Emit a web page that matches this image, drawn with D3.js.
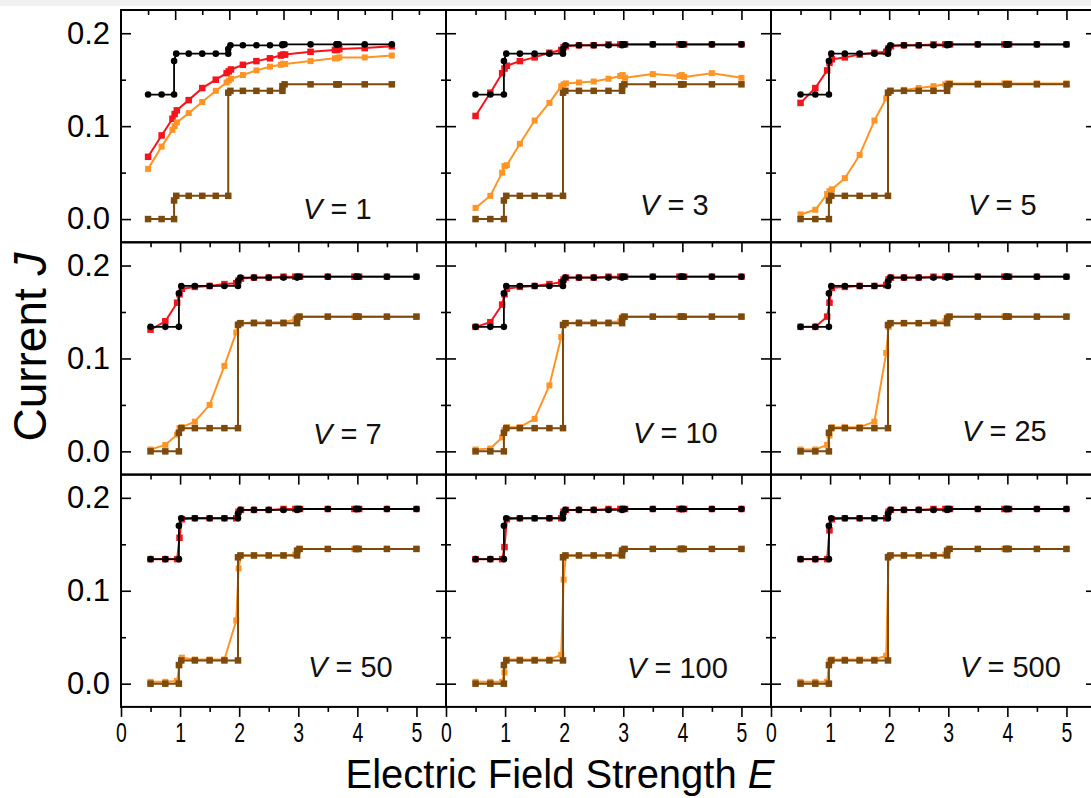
<!DOCTYPE html>
<html>
<head>
<meta charset="utf-8">
<script src="https://cdn.jsdelivr.net/npm/d3@7"></script>
<style>
  body { margin: 0; background: #fff; }
  svg { display: block; font-family: Arial, 'Liberation Sans', sans-serif; }
</style>
</head>
<body>
<svg id="chart"></svg>
<script>
// V value of each panel, read left-to-right, top-to-bottom
const vLabels = ['1', '3', '5', '7', '10', '25', '50', '100', '500'];

// field values E of the smooth curves (red, orange) and of the step curves (black, brown)
const eCurve = [0.5, 0.75, 0.95, 0.99, 1.03, 1.25, 1.5, 1.75, 1.95, 1.99, 2.03, 2.25, 2.5, 2.75, 2.95, 2.99, 3.03, 3.5, 3.95, 3.99, 4.03, 4.5, 5.0];
const eStep = [0.5, 0.75, 0.98, 0.98, 1.02, 1.25, 1.5, 1.75, 1.98, 1.98, 2.02, 2.25, 2.5, 2.75, 2.98, 2.98, 3.02, 3.5, 3.98, 3.98, 4.02, 4.5, 5.0];

// step curves, same in every panel
const jBlack = [0.134, 0.134, 0.134, 0.170, 0.178, 0.178, 0.178, 0.178, 0.178, 0.183, 0.187, 0.187, 0.187, 0.187, 0.187, 0.188, 0.188, 0.188, 0.188, 0.188, 0.188, 0.188, 0.188];
const jBrown = [0.000, 0.000, 0.000, 0.020, 0.025, 0.025, 0.025, 0.025, 0.025, 0.136, 0.138, 0.138, 0.138, 0.138, 0.138, 0.143, 0.145, 0.145, 0.145, 0.145, 0.145, 0.145, 0.145];

// red curves, one row per panel
const jRed = [
  [0.067, 0.090, 0.108, 0.113, 0.117, 0.128, 0.141, 0.150, 0.157, 0.159, 0.161, 0.166, 0.170, 0.173, 0.176, 0.177, 0.177, 0.180, 0.182, 0.182, 0.183, 0.184, 0.186],
  [0.111, 0.136, 0.157, 0.162, 0.165, 0.170, 0.174, 0.179, 0.182, 0.185, 0.186, 0.187, 0.187, 0.188, 0.188, 0.188, 0.188, 0.188, 0.188, 0.188, 0.188, 0.188, 0.188],
  [0.125, 0.141, 0.160, 0.168, 0.172, 0.174, 0.177, 0.179, 0.180, 0.184, 0.186, 0.187, 0.187, 0.188, 0.188, 0.188, 0.188, 0.188, 0.188, 0.188, 0.188, 0.188, 0.188],
  [0.131, 0.140, 0.160, 0.169, 0.175, 0.177, 0.178, 0.180, 0.181, 0.184, 0.186, 0.187, 0.187, 0.188, 0.188, 0.188, 0.188, 0.188, 0.188, 0.188, 0.188, 0.188, 0.188],
  [0.134, 0.139, 0.158, 0.169, 0.175, 0.177, 0.178, 0.180, 0.182, 0.185, 0.187, 0.187, 0.187, 0.188, 0.188, 0.188, 0.188, 0.188, 0.188, 0.188, 0.188, 0.188, 0.188],
  [0.134, 0.134, 0.145, 0.160, 0.176, 0.177, 0.178, 0.178, 0.179, 0.185, 0.187, 0.187, 0.187, 0.188, 0.188, 0.188, 0.188, 0.188, 0.188, 0.188, 0.188, 0.188, 0.188],
  [0.134, 0.134, 0.134, 0.157, 0.177, 0.178, 0.178, 0.178, 0.178, 0.185, 0.187, 0.187, 0.187, 0.188, 0.188, 0.188, 0.188, 0.188, 0.188, 0.188, 0.188, 0.188, 0.188],
  [0.134, 0.134, 0.134, 0.147, 0.177, 0.178, 0.178, 0.178, 0.178, 0.185, 0.187, 0.187, 0.187, 0.188, 0.188, 0.188, 0.188, 0.188, 0.188, 0.188, 0.188, 0.188, 0.188],
  [0.134, 0.134, 0.134, 0.165, 0.177, 0.178, 0.178, 0.178, 0.178, 0.185, 0.187, 0.187, 0.187, 0.188, 0.188, 0.188, 0.188, 0.188, 0.188, 0.188, 0.188, 0.188, 0.188]
];

// orange curves, one row per panel
const jOrange = [
  [0.054, 0.078, 0.096, 0.100, 0.104, 0.114, 0.126, 0.138, 0.147, 0.149, 0.151, 0.155, 0.160, 0.164, 0.166, 0.167, 0.167, 0.170, 0.173, 0.173, 0.174, 0.174, 0.176],
  [0.012, 0.025, 0.050, 0.057, 0.058, 0.081, 0.106, 0.125, 0.143, 0.145, 0.146, 0.147, 0.148, 0.151, 0.154, 0.155, 0.152, 0.156, 0.154, 0.155, 0.153, 0.157, 0.152],
  [0.005, 0.010, 0.027, 0.030, 0.032, 0.044, 0.069, 0.106, 0.130, 0.136, 0.138, 0.139, 0.141, 0.143, 0.145, 0.146, 0.146, 0.146, 0.146, 0.146, 0.146, 0.146, 0.146],
  [0.002, 0.007, 0.018, 0.025, 0.026, 0.032, 0.050, 0.092, 0.128, 0.137, 0.138, 0.139, 0.139, 0.139, 0.142, 0.145, 0.145, 0.145, 0.145, 0.145, 0.145, 0.145, 0.145],
  [0.002, 0.003, 0.015, 0.023, 0.026, 0.026, 0.035, 0.071, 0.123, 0.136, 0.138, 0.139, 0.139, 0.139, 0.140, 0.145, 0.145, 0.145, 0.145, 0.145, 0.145, 0.145, 0.145],
  [0.002, 0.002, 0.007, 0.017, 0.026, 0.026, 0.026, 0.032, 0.106, 0.134, 0.138, 0.138, 0.138, 0.139, 0.140, 0.145, 0.145, 0.145, 0.145, 0.145, 0.145, 0.145, 0.145],
  [0.002, 0.002, 0.003, 0.020, 0.028, 0.026, 0.026, 0.026, 0.068, 0.124, 0.138, 0.138, 0.138, 0.138, 0.139, 0.144, 0.145, 0.145, 0.145, 0.145, 0.145, 0.145, 0.145],
  [0.002, 0.002, 0.002, 0.012, 0.026, 0.026, 0.026, 0.026, 0.031, 0.112, 0.138, 0.138, 0.138, 0.138, 0.139, 0.144, 0.145, 0.145, 0.145, 0.145, 0.145, 0.145, 0.145],
  [0.002, 0.002, 0.002, 0.024, 0.026, 0.026, 0.026, 0.026, 0.030, 0.137, 0.138, 0.138, 0.138, 0.138, 0.139, 0.144, 0.145, 0.145, 0.145, 0.145, 0.145, 0.145, 0.145]
];

const xMajor = [0, 1, 2, 3, 4, 5];
const yMajor = [0, 0.1, 0.2];
const yMinor = [0.05, 0.15];

// ---- layout ----
const width = 1091, height = 798;
const plotLeft = 121, plotTop = 10, colW = 325, rowH = 232.3;
const xMaxOf = [6, 5.5, 5.5, 5.5, 5.5, 5.5, 5.5, 5.5, 5.5];   // first panel is drawn wider in x
const labelPos = [[182, 209], [194, 205], [197, 205], [192, 202], [187, 201], [191, 199], [187, 202], [181, 203], [189, 202]];

const colors = { black: '#000000', red: '#f5141c', orange: '#ff9424', brown: '#7d4a0e' };

const svg = d3.select('#chart').attr('width', width).attr('height', height);

svg.append('rect').attr('width', width).attr('height', 6).attr('fill', '#f1f1f1');

const y = d3.scaleLinear().domain([-0.025, 0.225]).range([rowH, 0]);

vLabels.forEach((v, p) => {
  const col = p % 3, row = Math.floor(p / 3);
  const x = d3.scaleLinear().domain([0, xMaxOf[p]]).range([0, colW]);
  const xMinor = d3.range(0.5, xMaxOf[p], 1);
  const g = svg.append('g').attr('transform', `translate(${plotLeft + col * colW},${plotTop + row * rowH})`);

  // ticks: top and sides point inward
  g.append('g').call(d3.axisTop(x).tickValues(xMajor.slice(1)).tickSize(-10).tickFormat(''));
  g.append('g').call(d3.axisTop(x).tickValues(xMinor).tickSize(-5).tickFormat(''));
  const yl = g.append('g').call(d3.axisLeft(y).tickValues(yMajor).tickSize(-10).tickPadding(11)
    .tickFormat(col === 0 ? d3.format('.1f') : ''));
  g.append('g').call(d3.axisLeft(y).tickValues(yMinor).tickSize(-5).tickFormat(''));
  g.append('g').attr('transform', `translate(${colW},0)`).call(d3.axisRight(y).tickValues(yMajor).tickSize(-10).tickFormat(''));
  g.append('g').attr('transform', `translate(${colW},0)`).call(d3.axisRight(y).tickValues(yMinor).tickSize(-5).tickFormat(''));

  if (row === 2) {
    const xb = g.append('g').attr('transform', `translate(0,${rowH})`)
      .call(d3.axisBottom(x).tickValues(xMajor).tickSize(10).tickPadding(6).tickFormat(d3.format('d')));
    xb.selectAll('text').attr('font-size', 27).attr('fill', '#000').attr('transform', 'scale(0.72,1)');
    g.append('g').attr('transform', `translate(0,${rowH})`)
      .call(d3.axisBottom(x).tickValues(xMinor).tickSize(5).tickFormat(''));
  }
  yl.selectAll('text').attr('font-size', 31).attr('fill', '#000');
  g.selectAll('.domain').remove();
  g.selectAll('.tick line').attr('stroke', '#000').attr('stroke-width', 1.6);

  const series = [
    { e: eCurve, j: jRed[p], color: colors.red, shape: 'square', size: 6.5, lw: 2 },
    { e: eCurve, j: jOrange[p], color: colors.orange, shape: 'square', size: 6, lw: 2 },
    { e: eStep, j: jBrown, color: colors.brown, shape: 'square', size: 6.5, lw: 2 },
    { e: eStep, j: jBlack, color: colors.black, shape: 'circle', size: 3.3, lw: 1.8 }
  ];

  series.forEach(s => {
    const pts = s.e.map((e, i) => [e, s.j[i]]);
    g.append('path')
      .datum(pts)
      .attr('fill', 'none')
      .attr('stroke', s.color)
      .attr('stroke-width', s.lw)
      .attr('stroke-linejoin', 'round')
      .attr('d', d3.line().x(d => x(d[0])).y(d => y(d[1])));

    if (s.shape === 'circle') {
      g.selectAll(null).data(pts).enter().append('circle')
        .attr('cx', d => x(d[0])).attr('cy', d => y(d[1]))
        .attr('r', s.size).attr('fill', s.color);
    } else {
      g.selectAll(null).data(pts).enter().append('rect')
        .attr('x', d => x(d[0]) - s.size / 2).attr('y', d => y(d[1]) - s.size / 2)
        .attr('width', s.size).attr('height', s.size).attr('fill', s.color);
    }
  });

  // frame
  g.append('rect').attr('width', colW).attr('height', rowH)
    .attr('fill', 'none').attr('stroke', '#000').attr('stroke-width', 2);

  // panel label
  const t = g.append('text')
    .attr('x', labelPos[p][0]).attr('y', labelPos[p][1])
    .attr('font-size', 29).attr('fill', '#111')
    .style('white-space', 'pre');
  t.append('tspan').attr('font-style', 'italic').text('V');
  t.append('tspan').text(' = ' + v);
});

// axis titles
const yt = svg.append('text')
  .attr('transform', `translate(46,347) rotate(-90)`)
  .attr('text-anchor', 'middle')
  .attr('font-size', 46)
  .style('white-space', 'pre');
yt.append('tspan').text('Current ');
yt.append('tspan').attr('font-style', 'italic').text('J');

const xt = svg.append('text')
  .attr('x', 560).attr('y', 788)
  .attr('text-anchor', 'middle')
  .attr('font-size', 40)
  .style('white-space', 'pre');
xt.append('tspan').text('Electric Field Strength ');
xt.append('tspan').attr('font-style', 'italic').text('E');
</script>
</body>
</html>
